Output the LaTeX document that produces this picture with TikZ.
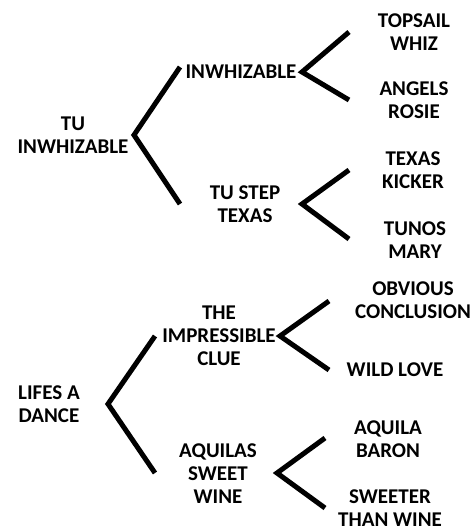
\documentclass[tikz,border=0pt]{standalone}
\usepackage{fontspec}
\setmainfont{Carlito}
\begin{document}
\begin{tikzpicture}[x=1pt,y=-1pt,
  horse/.style={font=\bfseries\fontsize{21}{23}\selectfont,align=center,inner sep=0pt},
  branch/.style={line width=5pt}]
\useasboundingbox (0,0) rectangle (473,528);
%first pedigree
\node[horse] (tu) at (73,135) {TU\\INWHIZABLE};
\node[horse] (inwhiz) at (241,72) {INWHIZABLE};
\node[horse] (tustep) at (245,204) {TU STEP\\TEXAS};
\node[horse] (topsail) at (414,32) {TOPSAIL\\WHIZ};
\node[horse] (angels) at (414,100) {ANGELS\\ROSIE};
\node[horse] (texas) at (413,170) {TEXAS\\KICKER};
\node[horse] (tunos) at (415,240) {TUNOS\\MARY};
\coordinate (tu-fork) at (134,135);
\coordinate (tu-up) at (180,67);
\coordinate (tu-down) at (180,204);
\coordinate (inwhiz-fork) at (302,72);
\coordinate (inwhiz-up) at (349,32);
\coordinate (inwhiz-down) at (349,100);
\coordinate (tustep-fork) at (302,204);
\coordinate (tustep-up) at (349,170);
\coordinate (tustep-down) at (349,239);
\draw[branch] (tu-up) -- (tu-fork) -- (tu-down);
\draw[branch] (inwhiz-up) -- (inwhiz-fork) -- (inwhiz-down);
\draw[branch] (tustep-up) -- (tustep-fork) -- (tustep-down);
%second pedigree
\node[horse] (lifes) at (49,404) {LIFES A\\DANCE};
\node[horse] (clue) at (219,336) {THE\\IMPRESSIBLE\\CLUE};
\node[horse] (aquilas) at (218,474) {AQUILAS\\SWEET\\WINE};
\node[horse] (obvious) at (413,300) {OBVIOUS\\CONCLUSION};
\node[horse] (wild) at (395,370) {WILD LOVE};
\node[horse] (aquila) at (388,439) {AQUILA\\BARON};
\node[horse] (sweeter) at (390,508) {SWEETER\\THAN WINE};
\coordinate (lifes-fork) at (108,404);
\coordinate (lifes-up) at (155,336);
\coordinate (lifes-down) at (155,473);
\coordinate (clue-fork) at (280,336);
\coordinate (clue-up) at (329,301);
\coordinate (clue-down) at (329,370);
\coordinate (aquilas-fork) at (277,473);
\coordinate (aquilas-up) at (325,438);
\coordinate (aquilas-down) at (325,508);
\draw[branch] (lifes-up) -- (lifes-fork) -- (lifes-down);
\draw[branch] (clue-up) -- (clue-fork) -- (clue-down);
\draw[branch] (aquilas-up) -- (aquilas-fork) -- (aquilas-down);
\end{tikzpicture}
\end{document}
